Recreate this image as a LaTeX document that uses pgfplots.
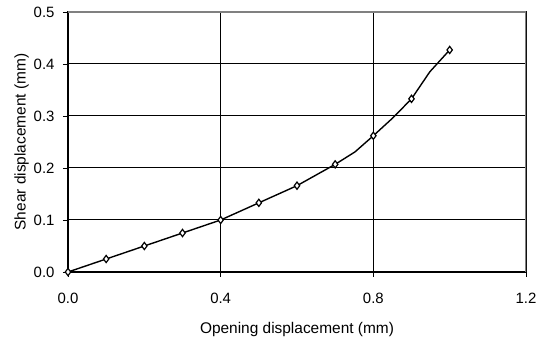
\documentclass[border=0pt]{standalone}
\usepackage{fontspec}
\setmainfont{Liberation Sans}
\usepackage{pgfplots}
\pgfplotsset{compat=1.18}
\begin{document}
\begin{tikzpicture}
\begin{axis}[
  scale only axis,
  width=458bp, height=260bp,
  xmin=0, xmax=1.2, ymin=0, ymax=0.5,
  xtick={0,0.4,0.8,1.2}, ytick={0,0.1,0.2,0.3,0.4,0.5},
  xticklabel style={/pgf/number format/.cd,fixed,fixed zerofill,precision=1},
  yticklabel style={/pgf/number format/.cd,fixed,fixed zerofill,precision=1},
  /pgf/number format/assume math mode=true,
  ticklabel style={font=\fontsize{15}{17}\selectfont},
  label style={font=\fontsize{15.5}{18}\selectfont},
  xlabel={Opening displacement (mm)},
  ylabel={Shear displacement (mm)},
  xtick pos=left, ytick pos=left,
  tick align=outside,
  major tick length=5bp,
  tick style={black, line width=0.8bp},
  grid=major,
  grid style={black, line width=1bp},
  axis line style={black, line width=1.6bp},
  xticklabel shift=13bp,
  yticklabel shift=5bp,
  xlabel shift=11bp,
  ylabel shift=-2bp,
]
\addplot[black, line width=1.4bp, mark=none] coordinates {
(0,0) (0.1,0.025) (0.2,0.05) (0.3,0.075) (0.4,0.1) (0.5,0.133) (0.6,0.166)
(0.7,0.207) (0.752,0.231) (0.8,0.262) (0.852,0.297) (0.9,0.333) (0.948,0.385) (1.0,0.427)
};
\addplot[only marks, mark=diamond*, mark size=3.6bp, mark options={fill=white, draw=black, line width=1.2bp}] coordinates {
(0,0) (0.1,0.025) (0.2,0.05) (0.3,0.075) (0.4,0.1) (0.5,0.133) (0.6,0.166)
(0.7,0.207) (0.8,0.262) (0.9,0.333) (1.0,0.427)
};
\draw[gray, line width=1.6bp] (rel axis cs:0,1) -- (rel axis cs:1,1) -- (rel axis cs:1,0);
\end{axis}
\path[use as bounding box] (current axis.south west) ++(-68bp,-67bp) rectangle ++(542bp,339bp);
\end{tikzpicture}
\end{document}
